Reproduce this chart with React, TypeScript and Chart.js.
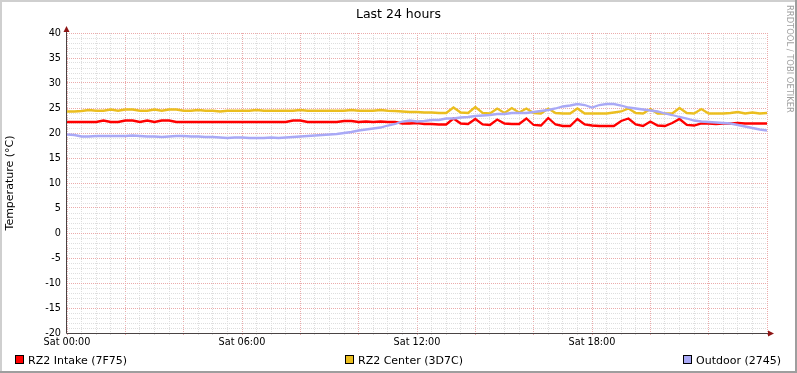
import React, { useEffect, useRef } from 'react';
import { Chart, registerables } from 'chart.js';

Chart.register(...registerables);

// sampling interval of the series (hours)
const STEP_HOURS = 0.25;

const xLabelHours = [0, 6, 12, 18];
const xLabelTexts = ['Sat 00:00', 'Sat 06:00', 'Sat 12:00', 'Sat 18:00'];

const titleText = 'Last 24 hours';
const yAxisTitle = 'Temperature (°C)';
const watermarkText = 'RRDTOOL / TOBI OETIKER';

const seriesLabels = ['RZ2 Intake (7F75)', 'RZ2 Center (3D7C)', 'Outdoor (2745)'];
const seriesColors = ['#FF0000', '#EBBE1F', '#A9A9F6'];

const intake = [
  22.2, 22.2, 22.2, 22.2, 22.2,
  22.5, 22.2, 22.2, 22.5, 22.5,
  22.2, 22.5, 22.2, 22.5, 22.5,
  22.2, 22.2, 22.2, 22.2, 22.2,
  22.2, 22.2, 22.2, 22.2, 22.2,
  22.2, 22.2, 22.2, 22.2, 22.2,
  22.2, 22.5, 22.5, 22.2, 22.2,
  22.2, 22.2, 22.2, 22.4, 22.4,
  22.2, 22.3, 22.2, 22.3, 22.2,
  22.2, 21.9, 21.9, 22.0, 21.8,
  21.8, 21.7, 21.7, 22.9, 21.9,
  21.8, 22.8, 21.7, 21.6, 22.7,
  21.9, 21.8, 21.8, 22.9, 21.6,
  21.5, 23.0, 21.7, 21.4, 21.4,
  22.8, 21.7, 21.5, 21.4, 21.4,
  21.4, 22.4, 22.9, 21.7, 21.4,
  22.3, 21.5, 21.4, 22.0, 22.8,
  21.6, 21.5, 21.9, 21.9, 21.8,
  21.9, 21.9, 22.0, 21.9, 21.9,
  21.9, 21.9,
];

const center = [
  24.3, 24.3, 24.4, 24.6, 24.45,
  24.45, 24.7, 24.45, 24.7, 24.7,
  24.45, 24.45, 24.7, 24.45, 24.7,
  24.7, 24.45, 24.45, 24.6, 24.45,
  24.45, 24.3, 24.45, 24.45, 24.45,
  24.45, 24.6, 24.45, 24.45, 24.45,
  24.45, 24.45, 24.6, 24.45, 24.45,
  24.45, 24.45, 24.45, 24.45, 24.6,
  24.45, 24.45, 24.45, 24.6, 24.45,
  24.4, 24.3, 24.2, 24.2, 24.1,
  24.1, 24.0, 24.0, 25.1, 24.1,
  24.0, 25.2, 24.0, 23.9, 24.9,
  24.0, 25.0, 24.1, 24.9, 24.0,
  23.9, 24.9, 24.0, 23.9, 23.9,
  24.9, 23.9, 23.9, 23.9, 23.9,
  24.1, 24.3, 24.9, 24.0, 23.9,
  24.8, 23.9, 23.9, 23.9, 25.0,
  24.0, 23.9, 24.8, 23.9, 23.9,
  23.9, 24.0, 24.2, 23.9, 24.1,
  23.9, 24.0,
];

const outdoor = [
  19.7, 19.6, 19.3, 19.3, 19.4,
  19.4, 19.4, 19.4, 19.4, 19.5,
  19.4, 19.3, 19.3, 19.2, 19.3,
  19.4, 19.4, 19.3, 19.3, 19.2,
  19.2, 19.1, 19.0, 19.1, 19.1,
  19.0, 19.0, 19.0, 19.1, 19.0,
  19.1, 19.2, 19.3, 19.4, 19.5,
  19.6, 19.7, 19.8, 20.0, 20.2,
  20.5, 20.7, 20.9, 21.1, 21.5,
  21.8, 22.3, 22.5, 22.3, 22.4,
  22.6, 22.6, 22.9, 22.9, 23.1,
  23.2, 23.4, 23.5, 23.6, 23.8,
  23.8, 24.0, 24.0, 24.0, 24.2,
  24.4, 24.6, 24.9, 25.3, 25.5,
  25.8, 25.6, 25.1, 25.6, 25.8,
  25.8, 25.5, 25.1, 24.9, 24.7,
  24.5, 24.3, 23.9, 23.6, 23.2,
  22.9, 22.5, 22.3, 22.2, 22.1,
  22.0, 21.9, 21.6, 21.3, 21.0,
  20.7, 20.5,
];

const seriesValues = [intake, center, outdoor];

const FONT = '"DejaVu Sans", Verdana, sans-serif';
const MINOR_GRID = '#DEDEDE';
const MAJOR_GRID = '#EBABAB';
const AXIS_COLOR = '#4A4444';
const ARROW_COLOR = '#8E1515';

export default function App() {
  const ref = useRef<HTMLCanvasElement>(null);

  useEffect(() => {
    document.body.style.margin = '0';
    const canvas = ref.current;
    if (!canvas) return;

    const decor = {
      id: 'rrdDecor',
      beforeDraw(chart: any) {
        const { ctx, width, height } = chart;
        ctx.save();
        ctx.fillStyle = '#FFFFFF';
        ctx.fillRect(0, 0, width, height);
        ctx.fillStyle = '#CFCFCF';
        ctx.fillRect(0, 0, width, 2);
        ctx.fillRect(0, 0, 2, height);
        ctx.fillStyle = '#9E9E9E';
        ctx.fillRect(0, height - 2, width, 2);
        ctx.fillRect(width - 2, 0, 2, height);
        ctx.restore();
      },
      afterDraw(chart: any) {
        const { ctx, chartArea, width } = chart;
        const left = Math.round(chartArea.left) - 0.5;
        const bottom = Math.round(chartArea.bottom) + 0.5;
        const right = chartArea.right;
        const top = chartArea.top;
        ctx.save();
        // axes
        ctx.strokeStyle = AXIS_COLOR;
        ctx.lineWidth = 1;
        ctx.setLineDash([]);
        ctx.beginPath();
        ctx.moveTo(left, bottom);
        ctx.lineTo(left, top - 5);
        ctx.moveTo(left, bottom);
        ctx.lineTo(right + 4, bottom);
        ctx.stroke();
        // arrows
        ctx.fillStyle = ARROW_COLOR;
        ctx.beginPath();
        ctx.moveTo(left, top - 7);
        ctx.lineTo(left - 3, top - 1);
        ctx.lineTo(left + 3, top - 1);
        ctx.closePath();
        ctx.fill();
        ctx.beginPath();
        ctx.moveTo(right + 7, bottom);
        ctx.lineTo(right + 1, bottom - 3);
        ctx.lineTo(right + 1, bottom + 3);
        ctx.closePath();
        ctx.fill();

        // title
        ctx.fillStyle = '#000';
        ctx.font = `12.5px ${FONT}`;
        ctx.textAlign = 'center';
        ctx.textBaseline = 'alphabetic';
        ctx.fillText(titleText, width / 2, 18);

        // y axis title
        ctx.save();
        ctx.translate(10, 183);
        ctx.rotate(-Math.PI / 2);
        ctx.font = `11px ${FONT}`;
        ctx.textAlign = 'center';
        ctx.textBaseline = 'middle';
        ctx.fillText(yAxisTitle, 0, 0);
        ctx.restore();

        // watermark
        ctx.save();
        ctx.translate(789, 5);
        ctx.rotate(Math.PI / 2);
        ctx.font = `8.4px ${FONT}`;
        ctx.fillStyle = '#A0A0A0';
        ctx.textAlign = 'left';
        ctx.textBaseline = 'middle';
        ctx.fillText(watermarkText, 0, 0);
        ctx.restore();

        // legend
        const legendX = [15, 345, 683];
        const boxTop = 355;
        ctx.font = `11px ${FONT}`;
        ctx.textAlign = 'left';
        ctx.textBaseline = 'alphabetic';
        seriesLabels.forEach((label, i) => {
          const x = legendX[i];
          ctx.fillStyle = seriesColors[i];
          ctx.fillRect(x, boxTop, 9, 9);
          ctx.strokeStyle = '#000';
          ctx.lineWidth = 1;
          ctx.strokeRect(x + 0.5, boxTop + 0.5, 8, 8);
          ctx.fillStyle = '#000';
          ctx.fillText(label, x + 13, 364);
        });
        ctx.restore();
      },
    };

    const chart = new Chart(canvas, {
      type: 'line',
      data: {
        datasets: seriesValues.map((vals, i) => ({
          label: seriesLabels[i],
          data: vals.map((v, j) => ({ x: j * STEP_HOURS, y: v })),
          borderColor: seriesColors[i],
          backgroundColor: seriesColors[i],
          borderWidth: 2.3,
          pointRadius: 0,
          tension: 0,
          fill: false,
          order: 3 - i,
        })),
      },
      options: {
        animation: false,
        responsive: false,
        devicePixelRatio: 1,
        layout: { padding: { left: 0, right: 30, top: 33, bottom: 0 } },
        plugins: {
          legend: { display: false },
          title: { display: false },
          tooltip: { enabled: false },
        },
        scales: {
          x: {
            type: 'linear',
            min: 0,
            max: 24,
            afterFit: (s: any) => {
              s.height = 40;
            },
            ticks: {
              stepSize: 0.5,
              autoSkip: false,
              maxRotation: 0,
              minRotation: 0,
              maxTicksLimit: 1000,
              padding: 2,
              color: '#000',
              font: { family: FONT, size: 9.7 },
              callback: (v: any) => {
                const idx = xLabelHours.indexOf(Number(v));
                return idx >= 0 ? xLabelTexts[idx] : '';
              },
            },
            grid: {
              color: (c: any) => (c.tick && c.tick.value % 2 === 0 ? MAJOR_GRID : MINOR_GRID),
              lineWidth: 1,
              drawTicks: true,
              tickLength: 2,
            },
            border: { display: false, dash: [1, 1] },
          },
          y: {
            type: 'linear',
            min: -20,
            max: 40,
            afterFit: (s: any) => {
              s.width = 67;
            },
            ticks: {
              stepSize: 1,
              autoSkip: false,
              maxTicksLimit: 1000,
              padding: 6,
              color: '#000',
              font: { family: FONT, size: 9.7 },
              callback: (v: any) => (Number(v) % 5 === 0 ? String(v) : ''),
            },
            grid: {
              color: (c: any) => (c.tick && c.tick.value % 5 === 0 ? MAJOR_GRID : MINOR_GRID),
              lineWidth: 1,
              drawTicks: false,
            },
            border: { display: false, dash: [1, 1] },
          },
        },
      },
      plugins: [decor],
    } as any);

    return () => {
      chart.destroy();
    };
  }, []);

  return <canvas ref={ref} width={797} height={373} style={{ display: 'block' }} />;
}
